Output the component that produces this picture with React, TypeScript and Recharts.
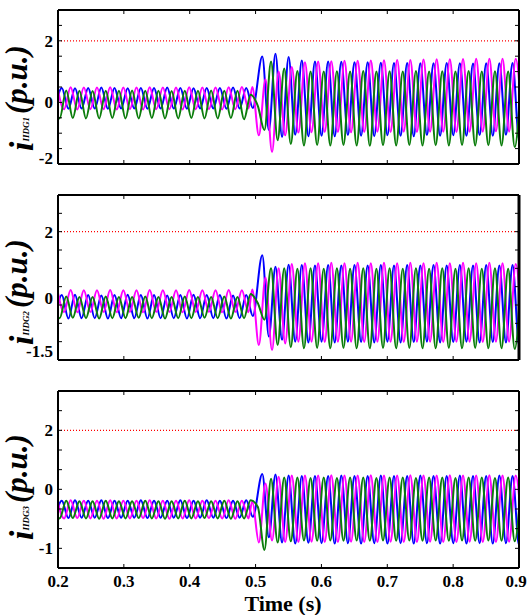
import { LineChart, Line, XAxis, YAxis, ReferenceLine } from 'recharts'

const FONT = '"Liberation Serif", "Times New Roman", serif'
const BLUE = '#0000ff'
const MAGENTA = '#ff00ff'
const GREEN = '#0b7d0b'
const WIDTH = 528

// one value per half cycle (alternating extremes), 50 Hz
const HALF_PERIOD = 0.01
const BLUE_PRE_T0 = 0.1958
const BLUE_POST_T0 = 0.5102
const GREEN_PRE_T0 = 0.1925
const GREEN_POST_T0 = 0.5035
const MAGENTA_PRE_T0 = 0.1992
const MAGENTA_POST_T0 = 0.495

const xTicks = [0.2, 0.3, 0.4, 0.5, 0.6, 0.7, 0.8, 0.9]

// ---- IIDG1 ----
const bluePre1 = [
  -0.2, 0.47, -0.21, 0.46, -0.2, 0.47, -0.2, 0.48, -0.21, 0.47,
  -0.2, 0.46, -0.2, 0.47, -0.21, 0.47, -0.2, 0.48, -0.2, 0.47,
  -0.21, 0.46, -0.2, 0.47, -0.2, 0.47, -0.21, 0.48, -0.2, 0.47,
  -0.18,
]
const bluePost1 = [
  1.49, -0.9, 1.58, -1.12, 1.47, -1.05, 1.36, -1.1, 1.33, -1.08,
  1.33, -1.1, 1.32, -1.06, 1.3, -1.08, 1.3, -1.1, 1.29, -1.07,
  1.28, -1.08, 1.28, -1.1, 1.27, -1.06, 1.27, -1.08, 1.28, -1.07,
  1.27, -1.08, 1.26, -1.06, 1.27, -1.08, 1.27, -1.05, 1.28, -1.2,
  1.27,
]
const greenPre1 = [
  0.38, -0.52, 0.39, -0.51, 0.38, -0.52, 0.37, -0.52, 0.38, -0.51,
  0.38, -0.52, 0.39, -0.52, 0.38, -0.51, 0.38, -0.52, 0.37, -0.52,
  0.38, -0.51, 0.38, -0.52, 0.39, -0.52, 0.38, -0.51, 0.38, -0.55,
  0.25,
]
const greenPost1 = [
  -0.12, -0.9, 1.33, -1.23, 1.1, -1.35, 1.02, -1.4, 1.0, -1.38,
  1.0, -1.4, 1.01, -1.38, 1.0, -1.4, 1.02, -1.41, 1.0, -1.39,
  1.01, -1.4, 1.0, -1.38, 1.02, -1.4, 1.0, -1.39, 1.01, -1.4,
  1.0, -1.38, 1.02, -1.4, 1.0, -1.39, 1.01, -1.4, 1.0, -1.45,
  0.95,
]
const magentaPre1 = [
  0.48, -0.22, 0.49, -0.23, 0.48, -0.22, 0.48, -0.22, 0.49, -0.23,
  0.48, -0.22, 0.48, -0.23, 0.49, -0.22, 0.48, -0.22, 0.48, -0.23,
  0.49, -0.22, 0.48, -0.22, 0.48, -0.23, 0.49, -0.22, 0.5, -0.2,
]
const magentaPost1 = [
  0.5, -1.07, 0.75, -1.61, 1.0, -1.07, 1.15, -0.98, 1.3, -0.97,
  1.33, -0.96, 1.34, -0.96, 1.35, -0.97, 1.35, -0.96, 1.36, -0.95,
  1.37, -0.96, 1.38, -0.95, 1.38, -0.96, 1.39, -0.95, 1.4, -0.95,
  1.4, -0.96, 1.41, -0.95, 1.42, -0.95, 1.42, -0.94, 1.42, -0.95,
  1.42, -0.9,
]

// ---- IIDG2 ----
const bluePre2 = [
  -0.36, 0.27, -0.37, 0.28, -0.36, 0.27, -0.36, 0.26, -0.37, 0.27,
  -0.36, 0.28, -0.36, 0.27, -0.37, 0.27, -0.36, 0.26, -0.36, 0.27,
  -0.37, 0.28, -0.36, 0.27, -0.36, 0.27, -0.37, 0.26, -0.36, 0.27,
  -0.3,
]
const bluePost2 = [
  1.36, -0.86, 1.04, -0.95, 1.1, -1.0, 1.09, -1.02, 1.08, -1.0,
  1.09, -1.02, 1.08, -1.0, 1.09, -1.01, 1.08, -1.02, 1.09, -1.0,
  1.08, -1.02, 1.09, -1.01, 1.08, -1.0, 1.09, -1.02, 1.08, -1.01,
  1.09, -1.0, 1.08, -1.02, 1.09, -1.01, 1.08, -1.02, 1.09, -1.1,
  1.05,
]
const greenPre2 = [
  0.22, -0.36, 0.23, -0.35, 0.22, -0.36, 0.22, -0.37, 0.23, -0.36,
  0.22, -0.36, 0.22, -0.35, 0.23, -0.36, 0.22, -0.37, 0.22, -0.36,
  0.23, -0.36, 0.22, -0.35, 0.22, -0.36, 0.23, -0.37, 0.22, -0.36,
  0.3,
]
const greenPost2 = [
  0.05, -0.4, 1.0, -1.09, 1.0, -1.15, 0.99, -1.18, 1.0, -1.17,
  0.99, -1.18, 1.0, -1.17, 0.99, -1.18, 1.0, -1.18, 0.99, -1.17,
  1.0, -1.18, 0.99, -1.17, 1.0, -1.18, 0.99, -1.18, 1.0, -1.17,
  0.99, -1.18, 1.0, -1.17, 0.99, -1.18, 1.0, -1.18, 0.99, -1.2,
  0.9,
]
const magentaPre2 = [
  0.4, -0.19, 0.41, -0.2, 0.4, -0.19, 0.4, -0.19, 0.41, -0.2,
  0.4, -0.19, 0.4, -0.2, 0.41, -0.19, 0.4, -0.19, 0.4, -0.2,
  0.41, -0.19, 0.4, -0.19, 0.4, -0.2, 0.41, -0.19, 0.4, -0.2,
]
const magentaPost2 = [
  0.42, -1.09, 0.75, -1.23, 1.0, -1.05, 1.12, -1.0, 1.14, -1.0,
  1.14, -1.01, 1.15, -1.0, 1.14, -1.0, 1.15, -1.01, 1.14, -1.0,
  1.15, -1.0, 1.14, -1.01, 1.15, -1.0, 1.14, -1.0, 1.15, -1.01,
  1.14, -1.0, 1.15, -1.0, 1.14, -1.01, 1.15, -1.0, 1.14, -1.0,
  1.12, -0.95,
]

// ---- IIDG3 ----
const bluePre3 = [
  -0.22, 0.21, -0.23, 0.22, -0.22, 0.21, -0.22, 0.22, -0.23, 0.21,
  -0.22, 0.21, -0.22, 0.22, -0.23, 0.21, -0.22, 0.21, -0.22, 0.22,
  -0.23, 0.21, -0.22, 0.22, -0.22, 0.21, -0.23, 0.21, -0.22, 0.22,
  -0.2,
]
const bluePost3 = [
  0.89, -0.72, 0.88, -0.85, 0.85, -0.88, 0.84, -0.86, 0.84, -0.87,
  0.84, -0.88, 0.85, -0.87, 0.84, -0.88, 0.84, -0.87, 0.85, -0.88,
  0.84, -0.87, 0.84, -0.88, 0.85, -0.87, 0.84, -0.88, 0.84, -0.87,
  0.85, -0.88, 0.84, -0.87, 0.84, -0.88, 0.85, -0.87, 0.84, -0.93,
  0.8,
]
const greenPre3 = [
  0.2, -0.24, 0.21, -0.23, 0.2, -0.24, 0.2, -0.25, 0.21, -0.24,
  0.2, -0.24, 0.2, -0.23, 0.21, -0.24, 0.2, -0.25, 0.2, -0.24,
  0.21, -0.24, 0.2, -0.23, 0.2, -0.24, 0.21, -0.25, 0.2, -0.24,
  0.22,
]
const greenPost3 = [
  0.05, -1.04, 0.77, -0.85, 0.8, -0.82, 0.8, -0.8, 0.79, -0.81,
  0.8, -0.8, 0.79, -0.81, 0.8, -0.8, 0.8, -0.81, 0.79, -0.8,
  0.8, -0.81, 0.8, -0.8, 0.79, -0.81, 0.8, -0.8, 0.8, -0.81,
  0.79, -0.8, 0.8, -0.81, 0.8, -0.8, 0.79, -0.81, 0.8, -0.82,
  0.78,
]
const magentaPre3 = [
  0.21, -0.24, 0.22, -0.23, 0.21, -0.24, 0.21, -0.25, 0.22, -0.24,
  0.21, -0.24, 0.21, -0.23, 0.22, -0.24, 0.21, -0.25, 0.21, -0.24,
  0.22, -0.24, 0.21, -0.23, 0.21, -0.24, 0.22, -0.25, 0.21, -0.24,
]
const magentaPost3 = [
  0.2, -0.85, 0.65, -0.8, 0.82, -0.84, 0.85, -0.84, 0.85, -0.83,
  0.85, -0.84, 0.86, -0.84, 0.85, -0.83, 0.85, -0.84, 0.86, -0.84,
  0.85, -0.83, 0.85, -0.84, 0.86, -0.84, 0.85, -0.83, 0.85, -0.84,
  0.86, -0.84, 0.85, -0.83, 0.85, -0.84, 0.86, -0.84, 0.85, -0.83,
  0.85, -0.8,
]

// y ticks (minor marks) and the labels where the figure prints them
const yMinor1 = [-2, -1.5, -1, -0.5, 0, 0.5, 1, 1.5, 2, 2.5, 3]
const yMinor23 = [-1.5, -1, -0.5, 0, 0.5, 1, 1.5, 2, 2.5, 3]
const yLabels1 = [{ at: 2, text: '2' }, { at: 0, text: '0' }, { at: -1.8, text: '-2' }]
const yLabels2 = [{ at: 2, text: '2' }, { at: 0.2, text: '0' }, { at: -1.25, text: '-1.5' }]
const yLabels3 = [{ at: 2, text: '2' }, { at: 0.5, text: '0' }, { at: -1, text: '-1' }]

type Pt = { t: number; v: number }

function toPoints(preT0: number, pre: number[], postT0: number, post: number[]): Pt[] {
  return [
    ...pre.map((v, i) => ({ t: +(preT0 + i * HALF_PERIOD).toFixed(4), v })),
    ...post.map((v, i) => ({ t: +(postT0 + i * HALF_PERIOD).toFixed(4), v })),
  ]
}

function LeftTick(props: any) {
  const { x, y, payload, minor, labels } = props
  const v = payload.value
  const label = labels.find((l: any) => l.at === v)
  return (
    <g>
      {minor.includes(v) && <line x1={x} x2={x + 4} y1={y} y2={y} stroke="#000" strokeWidth={1} />}
      {label && (
        <text x={x - 5} y={y} dy="0.35em" textAnchor="end" fontFamily={FONT} fontWeight="bold" fontSize={17} fill="#000">
          {label.text}
        </text>
      )}
    </g>
  )
}

function RightTick(props: any) {
  const { x, y, payload, minor } = props
  if (!minor.includes(payload.value)) return <g />
  return <line x1={x - 4} x2={x} y1={y} y2={y} stroke="#000" strokeWidth={1} />
}

function BottomTick(props: any) {
  const { x, y, payload, showLabel } = props
  // keep the last label inside the picture
  const tx = Math.min(x, WIDTH - 12)
  return (
    <g>
      <line x1={x} x2={x} y1={y} y2={y - 4} stroke="#000" strokeWidth={1} />
      {showLabel && (
        <text x={tx} y={y + 19} textAnchor="middle" fontFamily={FONT} fontWeight="bold" fontSize={17} fill="#000">
          {String(payload.value)}
        </text>
      )}
    </g>
  )
}

function TopTick(props: any) {
  const { x, y } = props
  return <line x1={x} x2={x} y1={y} y2={y + 4} stroke="#000" strokeWidth={1} />
}

function YTitle({ sub, cy }: { sub: string; cy: number }) {
  const cx = 33
  return (
    <text
      x={cx}
      y={cy}
      transform={`rotate(-90, ${cx}, ${cy})`}
      textAnchor="middle"
      fontFamily={FONT}
      fontWeight="bold"
      fontStyle="italic"
      fill="#000"
    >
      <tspan fontSize={34}>i</tspan>
      <tspan fontSize={9} dy={-4}>{sub}</tspan>
      <tspan fontSize={31} dy={-2} dx={3}>(p.u.)</tspan>
    </text>
  )
}

function XTitle() {
  return (
    <text x={283} y={236} textAnchor="middle" fontFamily={FONT} fontWeight="bold" fontSize={22} fill="#000">
      Time (s)
    </text>
  )
}

const frame = { stroke: '#000', strokeWidth: 2 }

function Panel(props: any) {
  const { top, height, margin, domain, minor, labels, blue, magenta, green, sub, titleY, showX, rightStroke } = props
  const yTicks = Array.from(new Set([...minor, ...labels.map((l: any) => l.at)])).sort((a: any, b: any) => a - b)
  return (
    <div style={{ position: 'absolute', left: 0, top }}>
      <LineChart width={WIDTH} height={height} margin={margin}>
        <XAxis
          xAxisId="b"
          type="number"
          dataKey="t"
          domain={[0.2, 0.9]}
          allowDataOverflow
          ticks={xTicks}
          interval={0}
          height={showX ? 46 : 1}
          tickSize={0}
          tickMargin={0}
          axisLine={frame}
          tickLine={false}
          tick={<BottomTick showLabel={showX} />}
          label={showX ? <XTitle /> : undefined}
        />
        <XAxis
          xAxisId="t"
          orientation="top"
          type="number"
          dataKey="t"
          domain={[0.2, 0.9]}
          allowDataOverflow
          ticks={xTicks}
          interval={0}
          height={1}
          tickSize={0}
          tickMargin={0}
          axisLine={frame}
          tickLine={false}
          tick={<TopTick />}
        />
        <YAxis
          yAxisId="l"
          type="number"
          domain={domain}
          allowDataOverflow
          ticks={yTicks}
          interval={0}
          width={58}
          tickSize={0}
          tickMargin={0}
          axisLine={frame}
          tickLine={false}
          tick={<LeftTick minor={minor} labels={labels} />}
          label={<YTitle sub={sub} cy={titleY} />}
        />
        <YAxis
          yAxisId="r"
          orientation="right"
          type="number"
          domain={domain}
          allowDataOverflow
          ticks={minor}
          interval={0}
          width={1}
          tickSize={0}
          tickMargin={0}
          axisLine={{ stroke: '#000', strokeWidth: rightStroke }}
          tickLine={false}
          tick={<RightTick minor={minor} />}
        />
        <ReferenceLine xAxisId="b" yAxisId="l" y={2} stroke="#ff0000" strokeWidth={1.2} strokeDasharray="1 2" />
        <Line xAxisId="b" yAxisId="l" data={blue} dataKey="v" type="monotone" stroke={BLUE} strokeWidth={2} dot={false} isAnimationActive={false} />
        <Line xAxisId="b" yAxisId="l" data={magenta} dataKey="v" type="monotone" stroke={MAGENTA} strokeWidth={2} dot={false} isAnimationActive={false} />
        <Line xAxisId="b" yAxisId="l" data={green} dataKey="v" type="monotone" stroke={GREEN} strokeWidth={2} dot={false} isAnimationActive={false} />
      </LineChart>
    </div>
  )
}

export default function App() {
  return (
    <div style={{ position: 'absolute', left: 0, top: 0, width: WIDTH, height: 615, background: '#fff' }}>
      <Panel
        top={0}
        height={180}
        margin={{ top: 9, right: 8, bottom: 15, left: 0 }}
        domain={[-2, 3]}
        minor={yMinor1}
        labels={yLabels1}
        blue={toPoints(BLUE_PRE_T0, bluePre1, BLUE_POST_T0, bluePost1)}
        magenta={toPoints(MAGENTA_PRE_T0, magentaPre1, MAGENTA_POST_T0, magentaPost1)}
        green={toPoints(GREEN_PRE_T0, greenPre1, GREEN_POST_T0, greenPost1)}
        sub="IIDG1"
        titleY={98}
        showX={false}
        rightStroke={2}
      />
      <Panel
        top={185}
        height={180}
        margin={{ top: 9, right: 8, bottom: 4, left: 0 }}
        domain={[-1.5, 3]}
        minor={yMinor23}
        labels={yLabels2}
        blue={toPoints(BLUE_PRE_T0, bluePre2, BLUE_POST_T0, bluePost2)}
        magenta={toPoints(MAGENTA_PRE_T0, magentaPre2, MAGENTA_POST_T0, magentaPost2)}
        green={toPoints(GREEN_PRE_T0, greenPre2, GREEN_POST_T0, greenPost2)}
        sub="IIDG2"
        titleY={107}
        showX={false}
        rightStroke={3}
      />
      <Panel
        top={375}
        height={240}
        margin={{ top: 15, right: 8, bottom: 1, left: 0 }}
        domain={[-1.5, 3]}
        minor={yMinor23}
        labels={yLabels3}
        blue={toPoints(BLUE_PRE_T0, bluePre3, BLUE_POST_T0, bluePost3)}
        magenta={toPoints(MAGENTA_PRE_T0, magentaPre3, MAGENTA_POST_T0, magentaPost3)}
        green={toPoints(GREEN_PRE_T0, greenPre3, GREEN_POST_T0, greenPost3)}
        sub="IIDG3"
        titleY={112}
        showX={true}
        rightStroke={2}
      />
    </div>
  )
}
